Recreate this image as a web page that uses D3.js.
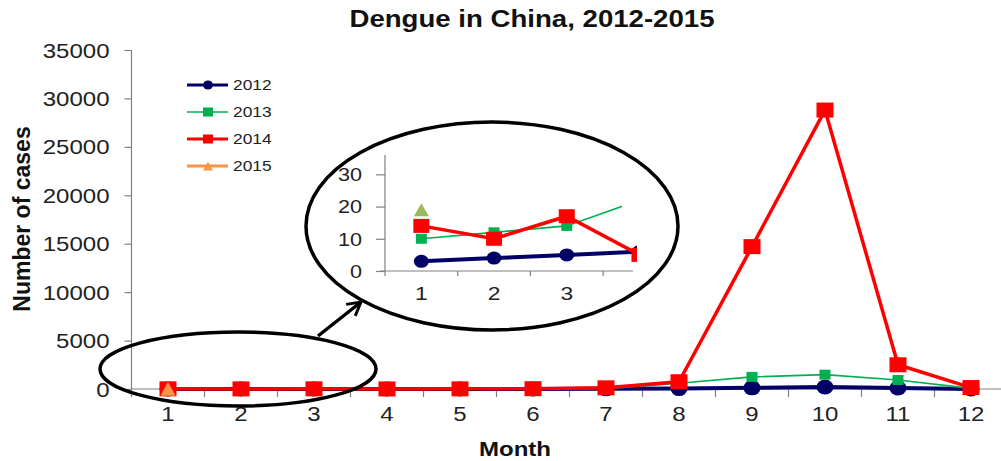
<!DOCTYPE html>
<meta charset="utf-8">
<style>
 body { margin: 0; background: #fff; }
 svg { font-family: Arial, "Liberation Sans", sans-serif; }
 .tick text, .lbl { fill: #222; }
 .axis path, .axis line { stroke: #808080; stroke-width: 1.2; }
 .callout { fill: none; stroke: #000; stroke-width: 3.5; }
</style>
<body>
<svg width="1001" height="461"></svg>
<script src="https://cdn.jsdelivr.net/npm/d3@7"></script>
<script>

 // data
 var months = [1, 2, 3, 4, 5, 6, 7, 8, 9, 10, 11, 12]
 var cases2012 = [3, 4, 5, 6, 8, 10, 15, 40, 120, 200, 110, 8]
 var cases2013 = [10, 12, 14, 22, 15, 20, 40, 600, 1250, 1480, 930, 60]
 var cases2014 = [14, 10, 17, 5, 15, 30, 120, 750, 14700, 28800, 2500, 150]
 var cases2015 = [19]
 var yTicks = [0, 5000, 10000, 15000, 20000, 25000, 30000, 35000]
 var insetMonths = [1, 2, 3, 4]
 var insetTicks = [0, 10, 20, 30]

 var series = [
   {name: '2012', values: cases2012, color: '#000066', width: 4, mark: 'circle', mw: 17, mh: 15, legW: 3},
   {name: '2013', values: cases2013, color: '#00b050', width: 1.6, mark: 'square', mw: 11, mh: 10, legW: 1.6},
   {name: '2014', values: cases2014, color: '#ff0000', width: 3.5, mark: 'square', mw: 17, mh: 15, legW: 3},
   {name: '2015', values: cases2015, color: '#f79646', width: 3.5, mark: 'triangle', mw: 15, mh: 14, legW: 3}
 ]

 var svg = d3.select('svg')
 var stretchK = 1.2

 function stretch(sel) {
   sel.each(function () {
     var w = this.getComputedTextLength()
     d3.select(this).attr('textLength', w * stretchK).attr('lengthAdjust', 'spacingAndGlyphs')
   })
 }

 function drawMark(g, type, cx, cy, w, h, color) {
   if (type === 'circle') {
     g.append('ellipse').attr('cx', cx).attr('cy', cy).attr('rx', w / 2).attr('ry', h / 2).attr('fill', color)
   } else if (type === 'square') {
     g.append('rect').attr('x', cx - w / 2).attr('y', cy - h / 2).attr('width', w).attr('height', h).attr('fill', color)
   } else {
     g.append('path')
      .attr('d', `M${cx},${cy - h / 2}L${cx + w / 2},${cy + h / 2}L${cx - w / 2},${cy + h / 2}Z`)
      .attr('fill', color)
   }
 }

 // main scales
 var x = d3.scaleBand().domain(months).range([131.5, 131.5 + 73 * 12])
 var y = d3.scaleLinear().domain([0, 35000]).range([389, 50])

 // title
 svg.append('text')
    .attr('x', 532).attr('y', 27)
    .attr('text-anchor', 'middle')
    .style('font-size', '23px').style('font-weight', 'bold')
    .attr('fill', '#111')
    .text('Dengue in China, 2012-2015')
    .call(stretch)

 // y axis
 var yAxis = svg.append('g').attr('class', 'axis')
                .attr('transform', `translate(${x.range()[0]},0)`)
                .call(d3.axisLeft(y).tickValues(yTicks).tickSize(7).tickPadding(15).tickFormat(d3.format('d')))
 yAxis.select('.domain').attr('d', `M0,${y(35000)}V${y(0)}`)
 yAxis.selectAll('.tick text').style('font-size', '20px').attr('font-family', null).attr('dy', '0.35em').call(stretch)

 // x axis: line, boundary ticks, centred labels
 var xAxis = svg.append('g').attr('class', 'axis')
 xAxis.append('path').attr('d', `M${x.range()[0]},${y(0)}H1001`)
 xAxis.selectAll('line.bt')
      .data(months)
      .join('line')
      .attr('class', 'bt')
      .attr('x1', d => x(d)).attr('x2', d => x(d))
      .attr('y1', y(0)).attr('y2', y(0) + 8)
 xAxis.selectAll('text.xl')
      .data(months)
      .join('text')
      .attr('class', 'lbl')
      .attr('x', d => x(d) + x.bandwidth() / 2)
      .attr('y', 421)
      .attr('text-anchor', 'middle')
      .style('font-size', '20px')
      .text(d => d)
      .call(stretch)

 // axis titles
 svg.append('text')
    .attr('transform', 'translate(30,219) rotate(-90)')
    .attr('text-anchor', 'middle')
    .style('font-size', '23px').style('font-weight', 'bold')
    .attr('fill', '#111')
    .text('Number of cases')
 svg.append('text')
    .attr('x', 515).attr('y', 456)
    .attr('text-anchor', 'middle')
    .style('font-size', '20px').style('font-weight', 'bold')
    .attr('fill', '#111')
    .text('Month')
    .call(stretch)

 // main series
 var cx = d => x(d) + x.bandwidth() / 2
 var plot = svg.append('g')
 series.forEach(function (s) {
   var pts = s.values.map((v, i) => [cx(months[i]), y(v)])
   if (pts.length > 1) {
     plot.append('path')
         .attr('d', d3.line()(pts))
         .attr('fill', 'none')
         .attr('stroke', s.color)
         .attr('stroke-width', s.width)
         .attr('stroke-linejoin', 'round')
   }
   pts.forEach(p => drawMark(plot, s.mark, p[0], p[1], s.mw, s.mh, s.color))
 })

 // legend
 var legend = svg.append('g')
 series.forEach(function (s, i) {
   var ly = 85 + i * 27
   legend.append('line')
         .attr('x1', 187).attr('x2', 228).attr('y1', ly).attr('y2', ly)
         .attr('stroke', s.color).attr('stroke-width', s.legW)
   drawMark(legend, s.mark, 208, ly, 10, 9, s.color)
   legend.append('text')
         .attr('class', 'lbl')
         .attr('x', 233).attr('y', ly + 5)
         .style('font-size', '14.5px')
         .text(s.name)
         .call(stretch)
 })

 // callout ellipses and arrow
 var defs = svg.append('defs')
 defs.append('marker')
    .attr('id', 'head')
    .attr('viewBox', '0 -6 10 12')
    .attr('refX', 9).attr('refY', 0)
    .attr('markerWidth', 5).attr('markerHeight', 5)
    .attr('orient', 'auto')
    .append('path')
    .attr('d', 'M0,-5L9,0L0,5')
    .attr('fill', 'none').attr('stroke', '#000').attr('stroke-width', 2)
 svg.append('ellipse').attr('class', 'callout')
    .attr('cx', 238).attr('cy', 369).attr('rx', 138).attr('ry', 37)
 svg.append('ellipse').attr('class', 'callout')
    .attr('cx', 492).attr('cy', 226).attr('rx', 186).attr('ry', 104)
 svg.append('path').attr('class', 'callout')
    .attr('stroke-width', 3)
    .attr('d', 'M318,336L361,302')
    .attr('marker-end', 'url(#head)')

 // inset chart
 var ix = d3.scaleBand().domain(insetMonths).range([385, 385 + 72.7 * 4])
 var iy = d3.scaleLinear().domain([0, 36]).range([271, 155])
 var inset = svg.append('g')

 var iyAxis = inset.append('g').attr('class', 'axis')
                   .attr('transform', `translate(${ix.range()[0]},0)`)
                   .call(d3.axisLeft(iy).tickValues(insetTicks).tickSize(9).tickPadding(14))
 iyAxis.select('.domain').attr('d', `M0,${iy(36)}V${iy(0) + 5}`)
 iyAxis.selectAll('.tick text').style('font-size', '18px').attr('font-family', null).attr('dy', '0.35em').call(stretch)

 var ixAxis = inset.append('g').attr('class', 'axis')
 ixAxis.append('path').attr('d', `M${ix.range()[0] - 5},${iy(0)}H633`)
 ixAxis.selectAll('line.bt')
       .data(insetMonths.slice(1))
       .join('line')
       .attr('class', 'bt')
       .attr('x1', d => ix(d)).attr('x2', d => ix(d))
       .attr('y1', iy(0)).attr('y2', iy(0) + 5)
 ixAxis.selectAll('text.xl')
       .data(insetMonths.slice(0, 3))
       .join('text')
       .attr('class', 'lbl')
       .attr('x', d => ix(d) + ix.bandwidth() / 2)
       .attr('y', 300)
       .attr('text-anchor', 'middle')
       .style('font-size', '19px')
       .text(d => d)
       .call(stretch)

 // the inset is cut off just right of its last tick; the thin green line stops a bit sooner
 defs.append('clipPath').attr('id', 'insetclip')
    .append('rect').attr('x', 380).attr('y', 140).attr('width', 257).attr('height', 150)
 defs.append('clipPath').attr('id', 'insetclip2')
    .append('rect').attr('x', 380).attr('y', 140).attr('width', 242).attr('height', 150)

 var insetColors = {'2015': '#9bbb59'}
 var insetSize = {'2012': [15, 13], '2013': [11, 10], '2014': [16, 14], '2015': [15, 13]}
 var icx = d => ix(d) + ix.bandwidth() / 2
 series.forEach(function (s) {
   var clip = s.name === '2013' ? 'url(#insetclip2)' : 'url(#insetclip)'
   var g = inset.append('g').attr('clip-path', clip)
   var vals = s.values.slice(0, insetMonths.length)
   var pts = vals.map((v, i) => [icx(insetMonths[i]), iy(v)])
   var col = insetColors[s.name] || s.color
   if (pts.length > 1) {
     g.append('path')
      .attr('d', d3.line()(pts))
      .attr('fill', 'none')
      .attr('stroke', col)
      .attr('stroke-width', s.width)
   }
   pts.forEach(p => drawMark(g, s.mark, p[0], p[1], insetSize[s.name][0], insetSize[s.name][1], col))
 })

</script>
</body>
